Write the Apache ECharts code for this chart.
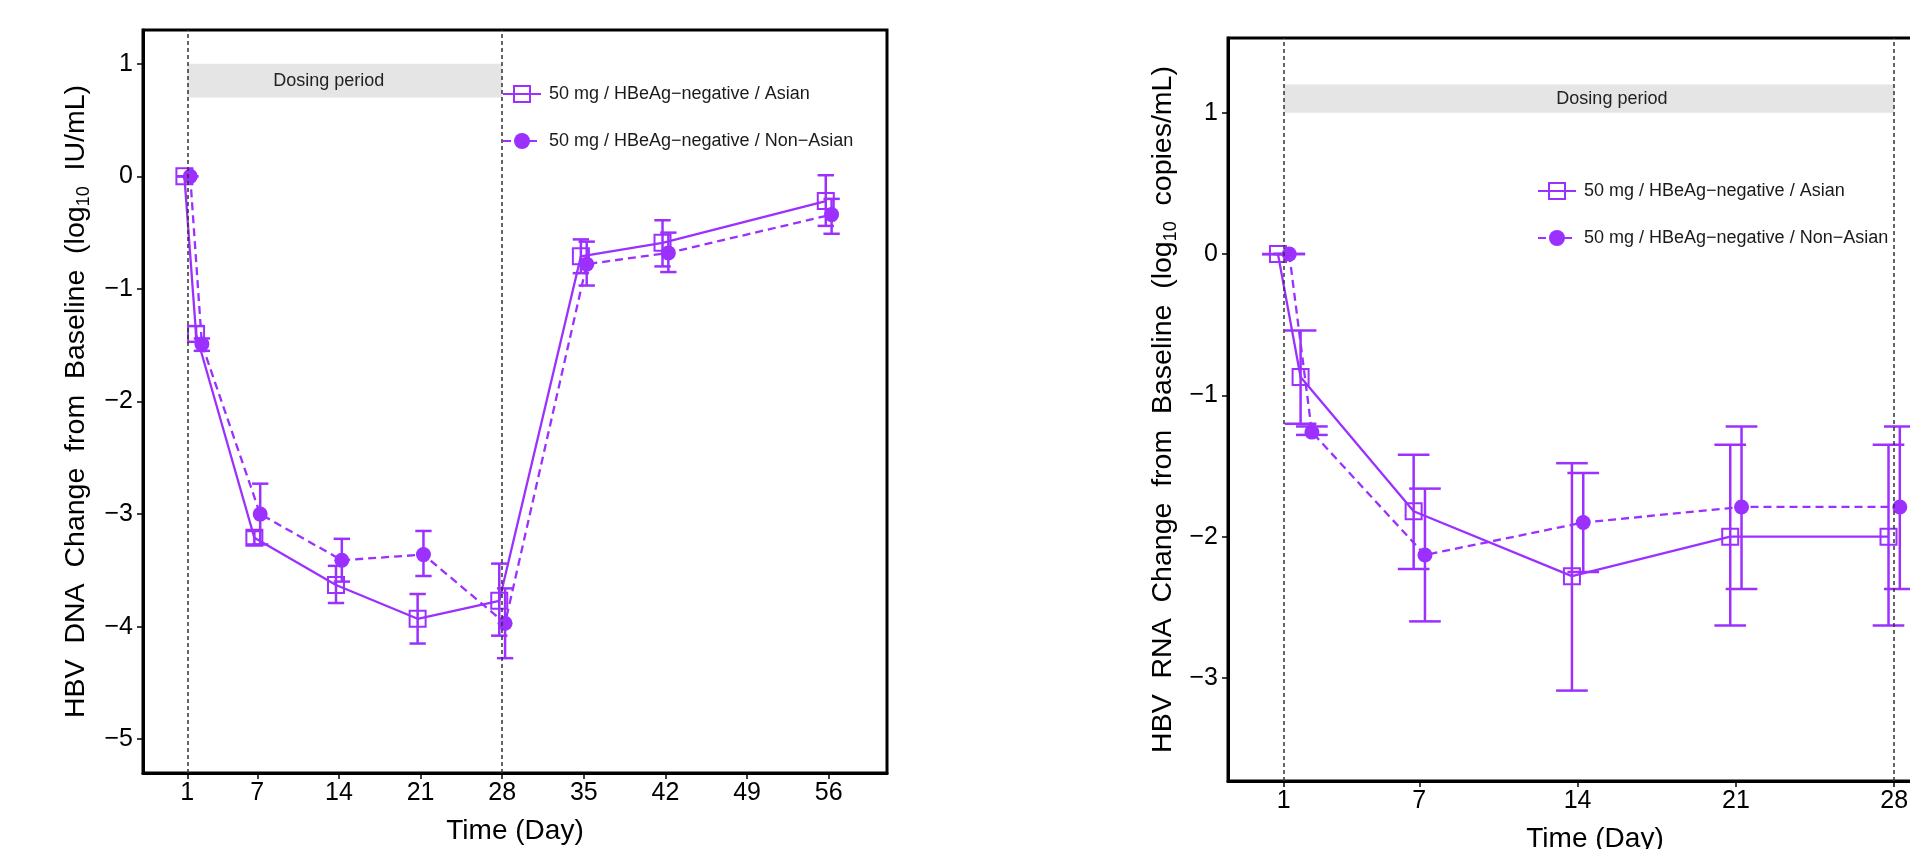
<!DOCTYPE html>
<html>
<head>
<meta charset="utf-8">
<script src="https://cdn.jsdelivr.net/npm/echarts@6/dist/echarts.min.js"></script>
<style>
html,body{margin:0;padding:0;background:#fff;}
#c{width:1910px;height:849px;}
</style>
</head>
<body>
<div id="c"></div>
<script>
// ---------- data ----------
const seriesNames = ['50 mg / HBeAg\u2212negative / Asian', '50 mg / HBeAg\u2212negative / Non\u2212Asian'];

// Left panel: HBV DNA
const daysDNA = [1, 2, 7, 14, 21, 28, 35, 42, 56];
const asianDNA = [0, -1.40, -3.21, -3.63, -3.93, -3.77, -0.71, -0.59, -0.22];
const asianDNALo = [0, -1.47, -3.27, -3.79, -4.15, -4.08, -0.86, -0.80, -0.44];
const asianDNAHi = [0, -1.33, -3.15, -3.46, -3.71, -3.44, -0.56, -0.39, 0.01];
const nonAsianDNA = [0, -1.49, -3.00, -3.41, -3.36, -3.97, -0.78, -0.68, -0.34];
const nonAsianDNALo = [0, -1.55, -3.27, -3.60, -3.55, -4.28, -0.97, -0.85, -0.51];
const nonAsianDNAHi = [0, -1.44, -2.73, -3.22, -3.15, -3.66, -0.58, -0.50, -0.20];

// Right panel: HBV RNA
const daysRNA = [1, 2, 7, 14, 21, 28];
const asianRNA = [0, -0.87, -1.82, -2.28, -2.00, -2.00];
const asianRNALo = [0, -1.20, -2.23, -3.09, -2.63, -2.63];
const asianRNAHi = [0, -0.54, -1.42, -1.48, -1.35, -1.35];
const nonAsianRNA = [0, -1.26, -2.13, -1.90, -1.79, -1.79];
const nonAsianRNALo = [0, -1.28, -2.60, -2.25, -2.37, -2.37];
const nonAsianRNAHi = [0, -1.22, -1.66, -1.55, -1.22, -1.22];

// axes / annotations
const xTicksDNA = [1, 7, 14, 21, 28, 35, 42, 49, 56];
const xTicksRNA = [1, 7, 14, 21, 28];
const yTicksDNA = [-5, -4, -3, -2, -1, 0, 1];
const yTicksRNA = [-3, -2, -1, 0, 1];
const dosingDays = [1, 28];
const bandDNA = [0.7, 1.0];
const bandRNA = [1.0, 1.2];
const bandLabel = 'Dosing period';

// ---------- styling ----------
const PURPLE = '#9B30FF';
const FONT = '"Liberation Sans", Arial, Helvetica, sans-serif';
const DODGE = 0.25;
const CAP = 0.7;

function pts(days, vals, off) { return days.map((d, i) => [d + off, vals[i]]); }
function errs(days, lo, hi, off) { return days.map((d, i) => [d + off, lo[i], hi[i]]); }

function errRender(params, api) {
  const x = api.value(0), lo = api.value(1), hi = api.value(2);
  const a = api.coord([x, lo]), b = api.coord([x, hi]);
  const l1 = api.coord([x - CAP, lo]), r1 = api.coord([x + CAP, lo]);
  const l2 = api.coord([x - CAP, hi]), r2 = api.coord([x + CAP, hi]);
  const st = { stroke: PURPLE, lineWidth: 2.5 };
  return { type: 'group', children: [
    { type: 'line', shape: { x1: a[0], y1: a[1], x2: b[0], y2: b[1] }, style: st },
    { type: 'line', shape: { x1: l1[0], y1: l1[1], x2: r1[0], y2: r1[1] }, style: st },
    { type: 'line', shape: { x1: l2[0], y1: l2[1], x2: r2[0], y2: r2[1] }, style: st }
  ]};
}

const minus = v => String(v).replace('-', '\u2212');

function xAxisCfg(gi, min, max, ticks) {
  return {
    gridIndex: gi, type: 'value', min: min, max: max,
    axisLine: { show: true, onZero: false, lineStyle: { color: '#000', width: 3 } },
    axisTick: { show: true, length: 6, lineStyle: { color: '#000', width: 1.5 }, customValues: ticks },
    axisLabel: { customValues: ticks, fontSize: 25, color: '#000', margin: 8, fontFamily: FONT },
    splitLine: { show: false },
    name: 'Time (Day)', nameLocation: 'middle', nameGap: 44,
    nameTextStyle: { fontSize: 28, color: '#000', fontFamily: FONT }
  };
}
function yAxisCfg(gi, min, max, ticks, name, gap) {
  return {
    gridIndex: gi, type: 'value', min: min, max: max,
    axisLine: { show: true, onZero: false, lineStyle: { color: '#000', width: 3 } },
    axisTick: { show: true, length: 6, lineStyle: { color: '#000', width: 1.5 }, customValues: ticks },
    axisLabel: { customValues: ticks, fontSize: 25, color: '#000', margin: 10, fontFamily: FONT, formatter: minus },
    splitLine: { show: false },
    name: name, nameLocation: 'middle', nameGap: gap, nameRotate: 90,
    nameTextStyle: {
      fontSize: 28.5, color: '#000', fontFamily: FONT,
      rich: {
        t: { fontSize: 28.5, color: '#000', fontFamily: FONT, lineHeight: 34 },
        s: { fontSize: 18, color: '#000', fontFamily: FONT, verticalAlign: 'bottom' }
      }
    }
  };
}

function panelSeries(gi, days, aV, aLo, aHi, nV, nLo, nHi, band, labelOffset) {
  return [
    {
      name: seriesNames[0], type: 'line', xAxisIndex: gi, yAxisIndex: gi,
      data: pts(days, aV, -DODGE),
      symbol: 'rect', symbolSize: 16,
      itemStyle: { color: 'rgba(0,0,0,0)', borderColor: PURPLE, borderWidth: 2 },
      lineStyle: { color: PURPLE, width: 2.3, type: 'solid' },
      emphasis: { disabled: true }, z: 3,
      markArea: {
        silent: true, itemStyle: { color: '#E5E5E5' },
        label: { show: true, position: 'inside', offset: [labelOffset, 0], fontSize: 18, color: '#222', fontFamily: FONT },
        data: [[{ name: bandLabel, coord: [dosingDays[0], band[0]] }, { coord: [dosingDays[1], band[1]] }]]
      },
      markLine: {
        silent: true, symbol: ['none', 'none'],
        lineStyle: { color: '#333', width: 1.5, type: [4, 3] },
        label: { show: false },
        data: dosingDays.map(d => ({ xAxis: d }))
      }
    },
    {
      name: seriesNames[1], type: 'line', xAxisIndex: gi, yAxisIndex: gi,
      data: pts(days, nV, DODGE),
      symbol: 'circle', symbolSize: 15,
      itemStyle: { color: PURPLE },
      lineStyle: { color: PURPLE, width: 2.3, type: [8, 5] },
      emphasis: { disabled: true }, z: 3
    },
    {
      name: 'errA' + gi, type: 'custom', xAxisIndex: gi, yAxisIndex: gi,
      data: errs(days, aLo, aHi, -DODGE), renderItem: errRender,
      encode: { x: 0, y: [1, 2] }, silent: true, z: 4
    },
    {
      name: 'errN' + gi, type: 'custom', xAxisIndex: gi, yAxisIndex: gi,
      data: errs(days, nLo, nHi, DODGE), renderItem: errRender,
      encode: { x: 0, y: [1, 2] }, silent: true, z: 4
    }
  ];
}

function legendCfg(left, top, gap) {
  return {
    data: seriesNames, orient: 'vertical', left: left, top: top, padding: 0,
    itemWidth: 38, itemHeight: 20, itemGap: gap,
    textStyle: { fontSize: 18, color: '#1a1a1a', fontFamily: FONT, padding: [0, 0, 0, 3] },
    selectedMode: false
  };
}

const chart = echarts.init(document.getElementById('c'), null, { renderer: 'canvas' });
chart.setOption({
  animation: false,
  backgroundColor: '#fff',
  grid: [
    { left: 143, top: 30, width: 744, height: 743, show: true, borderColor: '#000', borderWidth: 3, backgroundColor: 'rgba(0,0,0,0)', outerBoundsMode: 'none', containLabel: false },
    { left: 1228, top: 38, width: 734, height: 743, show: true, borderColor: '#000', borderWidth: 3, backgroundColor: 'rgba(0,0,0,0)', outerBoundsMode: 'none', containLabel: false }
  ],
  xAxis: [
    xAxisCfg(0, -2.8, 61, xTicksDNA),
    xAxisCfg(1, -1.46, 31, xTicksRNA)
  ],
  yAxis: [
    yAxisCfg(0, -5.3, 1.3, yTicksDNA, '{t|HBV  DNA  Change  from  Baseline  (log}{s|10}{t|  IU/mL)}', 50),
    yAxisCfg(1, -3.73, 1.53, yTicksRNA, '{t|HBV  RNA  Change  from  Baseline  (log}{s|10}{t|  copies/mL)}', 48)
  ],
  legend: [legendCfg(502, 85, 29), legendCfg(1537, 182, 29)],
  series: [].concat(
    panelSeries(0, daysDNA, asianDNA, asianDNALo, asianDNAHi, nonAsianDNA, nonAsianDNALo, nonAsianDNAHi, bandDNA, -16),
    panelSeries(1, daysRNA, asianRNA, asianRNALo, asianRNAHi, nonAsianRNA, nonAsianRNALo, nonAsianRNAHi, bandRNA, 23)
  )
});
</script>
</body>
</html>
